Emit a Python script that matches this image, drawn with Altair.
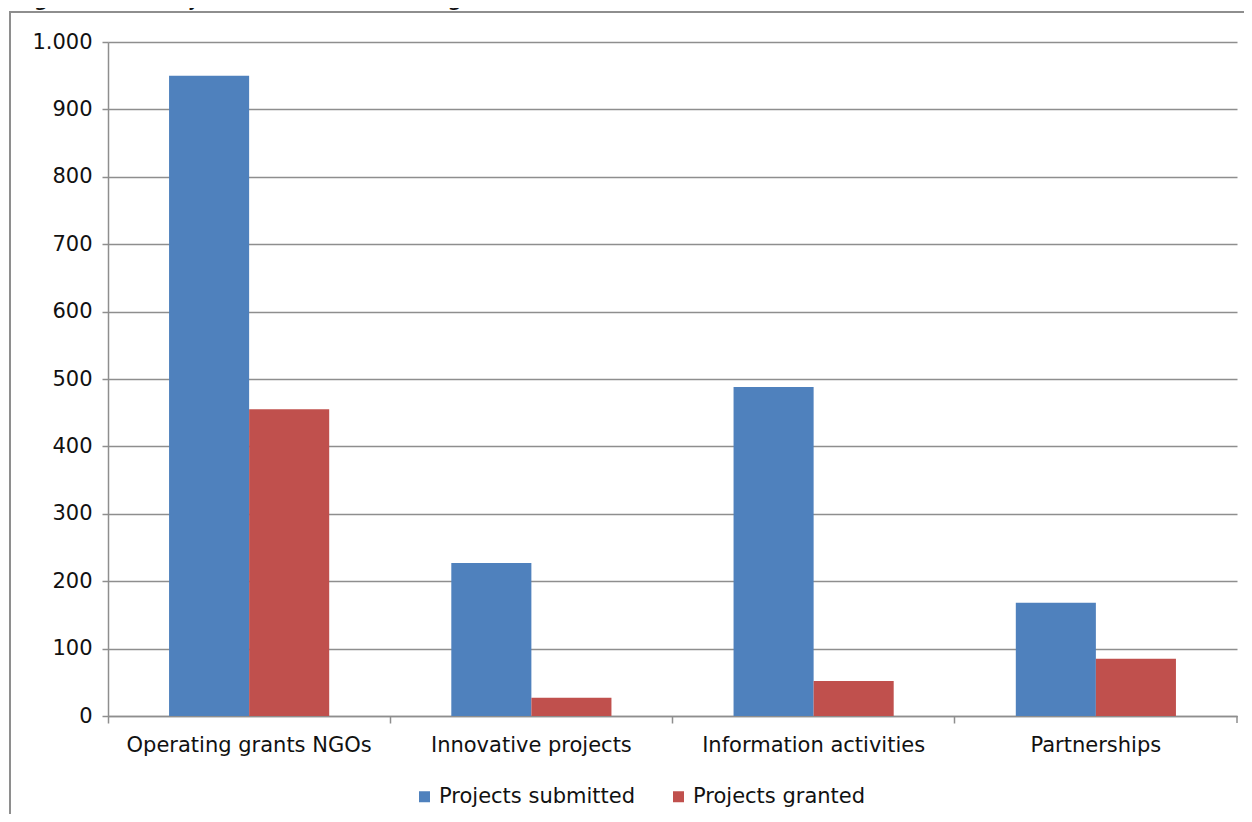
import altair as alt
import pandas as pd

categories = ["Operating grants NGOs", "Innovative projects", "Information activities", "Partnerships"]
series = ["Projects submitted", "Projects granted"]
submitted = [950, 227, 488, 168]
granted = [455, 27, 52, 85]
colors = ["#4F81BD", "#C0504D"]

rows = []
for i, c in enumerate(categories):
    rows.append({"category": c, "series": series[0], "value": submitted[i]})
    rows.append({"category": c, "series": series[1], "value": granted[i]})
df = pd.DataFrame(rows)

W = 1129
H = 674
FONT = "DejaVu Sans"
GRAY = "#8E8E8E"
FS = 21

bars = alt.Chart(df).mark_bar().encode(
    x=alt.X("category:N", sort=categories, title=None,
            scale=alt.Scale(paddingInner=0, paddingOuter=0),
            axis=alt.Axis(bandPosition=0, labelAngle=0, labelLimit=400,
                          tickSize=7, tickColor=GRAY, domainColor=GRAY,
                          tickWidth=1.5, domainWidth=1.5,
                          labelPadding=11, labelFontSize=FS, labelFont=FONT,
                          labelColor="#111111", grid=False)),
    xOffset=alt.XOffset("series:N", sort=series,
                        scale=alt.Scale(paddingInner=0, paddingOuter=0.7625)),
    y=alt.Y("value:Q", title=None,
            scale=alt.Scale(domain=[0, 1000], nice=False),
            axis=alt.Axis(values=list(range(0, 1001, 100)),
                          labelExpr="replace(format(datum.value, ','), ',', '.')",
                          tickSize=6, tickColor=GRAY, domainColor=GRAY,
                          tickWidth=1.5, domainWidth=1.5,
                          gridColor=GRAY, gridWidth=1.5,
                          labelPadding=10, labelFontSize=FS, labelFont=FONT,
                          labelColor="#111111")),
    color=alt.Color("series:N", sort=series, title=None,
                    scale=alt.Scale(domain=series, range=colors),
                    legend=alt.Legend(orient="none", legendX=306, legendY=744,
                                      direction="horizontal", symbolType="square",
                                      symbolSize=121, symbolStrokeWidth=0,
                                      labelFontSize=FS, labelFont=FONT,
                                      labelColor="#111111", labelLimit=400,
                                      labelOffset=4, columnPadding=32)),
)

one = pd.DataFrame({"a": [0]})

end_tick = alt.Chart(one).mark_rule(color=GRAY, strokeWidth=1.5).encode(
    x=alt.value(W), y=alt.value(H), y2=alt.value(H + 7)
)

frame = alt.Chart(one).mark_rect(fill=None, stroke=GRAY, strokeWidth=2).encode(
    x=alt.value(-98), x2=alt.value(W + 200), y=alt.value(-30), y2=alt.value(H + 300)
)

title1 = alt.Chart(one).mark_text(
    text="Figure 5", font=FONT, fontSize=25, fontStyle="italic",
    align="left", baseline="alphabetic", color="#111111"
).encode(x=alt.value(-94), y=alt.value(-37))

title2 = alt.Chart(one).mark_text(
    text="\u2013 Projects submitted and granted", font=FONT, fontSize=25,
    align="left", baseline="alphabetic", color="#111111"
).encode(x=alt.value(22), y=alt.value(-37))

chart = alt.layer(frame, bars, end_tick, title1, title2).properties(
    width=W, height=H,
    autosize=alt.AutoSizeParams(type="none"),
    padding={"left": 100, "top": 34, "right": 7, "bottom": 98},
).configure_view(stroke=None)

chart.save("out.html", embed_options={"renderer": "svg", "actions": False})
